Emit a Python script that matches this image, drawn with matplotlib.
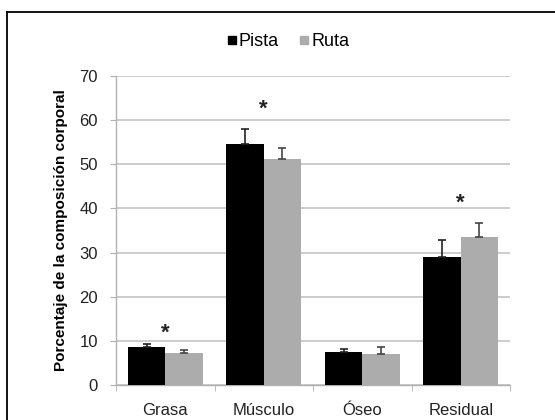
import matplotlib
matplotlib.use("Agg")
import matplotlib.pyplot as plt
import numpy as np
from matplotlib.lines import Line2D

categories = ["Grasa", "Músculo", "Óseo", "Residual"]
pista = [8.5, 54.6, 7.5, 29.1]
ruta = [7.3, 51.1, 7.0, 33.6]
pista_err = [0.9, 3.5, 0.7, 3.8]
ruta_err = [0.6, 2.5, 1.6, 3.2]
star_y = [12.7, 63.4, 42.1]
star_idx = [0, 1, 3]
yticks = [0, 10, 20, 30, 40, 50, 60, 70]

plt.rcParams['font.family'] = ['Liberation Sans', 'DejaVu Sans']

fig = plt.figure(figsize=(5.55, 4.2), dpi=100)
ax = fig.add_axes([116/555, 1-385/420, (510-116)/555, (385-76)/420])

x = np.arange(len(categories))
w = 0.38
ax.bar(x - w/2, pista, w, color='black', zorder=3, label='Pista')
ax.bar(x + w/2, ruta, w, color='#acacac', zorder=3, label='Ruta')
ax.errorbar(x - w/2, pista, yerr=[np.zeros(4), pista_err], fmt='none',
            ecolor='#222222', elinewidth=1.2, capsize=3, capthick=1.2, zorder=4)
ax.errorbar(x + w/2, ruta, yerr=[np.zeros(4), ruta_err], fmt='none',
            ecolor='#444444', elinewidth=1.2, capsize=3, capthick=1.2, zorder=4)
for i, yv in zip(star_idx, star_y):
    ax.annotate('*', xy=(x[i], yv), xytext=(0, -7), textcoords='offset points',
                ha='center', va='baseline', fontsize=16, fontweight='bold', color='#222222')

ax.set_xlim(-0.5, len(categories) - 0.5)
ax.set_ylim(0, 70)
ax.set_yticks(yticks)
ax.yaxis.grid(True, color='#c4c4c4', linewidth=1.2, zorder=0)
ax.set_axisbelow(True)
for s in ['top', 'right']:
    ax.spines[s].set_visible(False)
for s in ['left', 'bottom']:
    ax.spines[s].set_color('#b0b0b0')
    ax.spines[s].set_linewidth(1.0)
ax.set_xticks(x)
ax.set_xticklabels(categories)
ax.set_xticks(np.arange(-0.5, len(categories)), minor=True)
ax.tick_params(axis='x', which='major', length=0, pad=13, labelsize=12, labelcolor='#222222')
ax.tick_params(axis='x', which='minor', length=4, color='#b0b0b0', direction='out')
ax.tick_params(axis='y', length=4, color='#b0b0b0', pad=9, labelsize=12, labelcolor='#222222')
ax.set_ylabel('Porcentaje de la composición corporal', fontsize=11, fontweight='bold', labelpad=8)

handles = [Line2D([], [], marker='s', linestyle='none', markersize=6, color='black'),
           Line2D([], [], marker='s', linestyle='none', markersize=6, color='#acacac')]
fig.legend(handles, ['Pista', 'Ruta'], loc='center', bbox_to_anchor=(287/555, 1-42/420),
           ncol=2, frameon=False, fontsize=13, handletextpad=0.0, columnspacing=1.0,
           handlelength=0.8)

fig.add_artist(Line2D([7/555, 7/555], [0, 1-12/420], transform=fig.transFigure, color='black', linewidth=1.3))
fig.add_artist(Line2D([7/555, 1], [1-12/420, 1-12/420], transform=fig.transFigure, color='black', linewidth=1.3))

fig.savefig('out.png', dpi=100)
